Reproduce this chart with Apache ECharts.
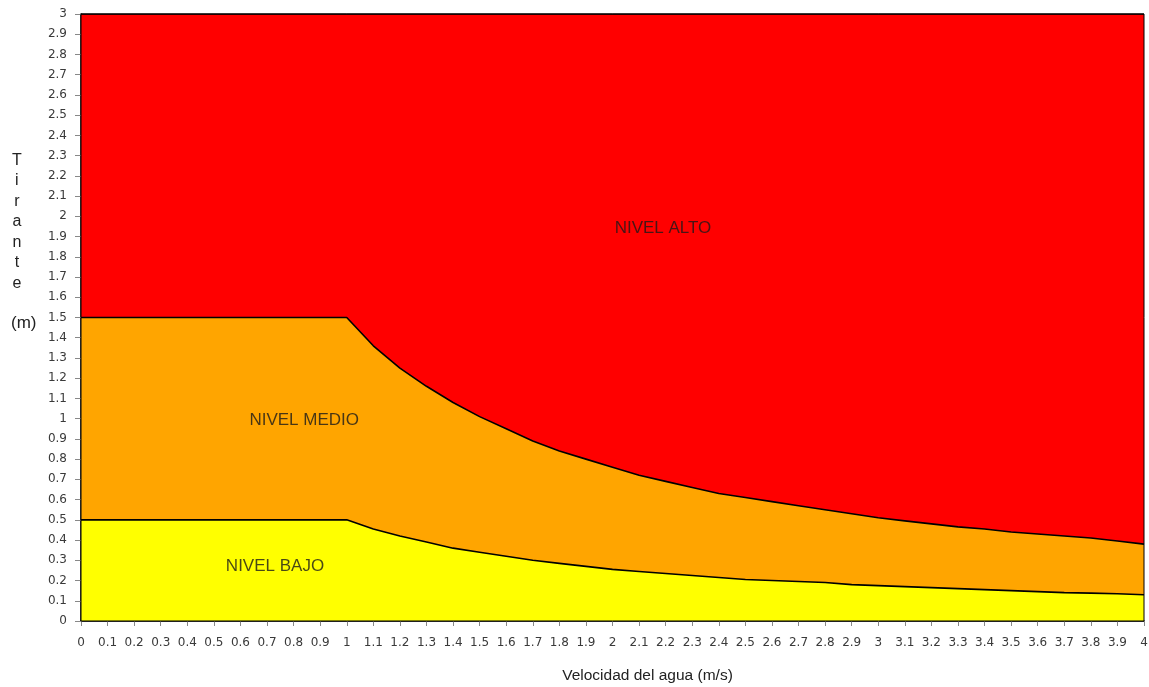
<!DOCTYPE html>
<html>
<head>
<meta charset="utf-8">
<script src="https://cdn.jsdelivr.net/npm/echarts@6/dist/echarts.min.js"></script>
<style>html,body{margin:0;padding:0;background:#fff}#c{width:1149px;height:687px}</style>
</head>
<body>
<div id="c"></div>
<script>
// Velocity (m/s)
var velocity = [0,0.1,0.2,0.3,0.4,0.5,0.6,0.7,0.8,0.9,1.0,1.1,1.2,1.3,1.4,1.5,1.6,1.7,1.8,1.9,2.0,2.1,2.2,2.3,2.4,2.5,2.6,2.7,2.8,2.9,3.0,3.1,3.2,3.3,3.4,3.5,3.6,3.7,3.8,3.9,4.0];
// Upper limit of NIVEL BAJO (m)
var bajoTop = [0.5,0.5,0.5,0.5,0.5,0.5,0.5,0.5,0.5,0.5,0.5,0.455,0.42,0.39,0.36,0.34,0.32,0.3,0.285,0.27,0.255,0.245,0.235,0.225,0.215,0.205,0.2,0.195,0.19,0.18,0.175,0.17,0.165,0.16,0.155,0.15,0.145,0.14,0.138,0.135,0.13];
// Upper limit of NIVEL MEDIO (m)
var medioTop = [1.5,1.5,1.5,1.5,1.5,1.5,1.5,1.5,1.5,1.5,1.5,1.36,1.25,1.16,1.08,1.01,0.95,0.89,0.84,0.8,0.76,0.72,0.69,0.66,0.63,0.61,0.59,0.57,0.55,0.53,0.51,0.495,0.48,0.465,0.455,0.44,0.43,0.42,0.41,0.395,0.38];
// Upper limit of NIVEL ALTO (m)
var altoTop = [3,3,3,3,3,3,3,3,3,3,3,3,3,3,3,3,3,3,3,3,3,3,3,3,3,3,3,3,3,3,3,3,3,3,3,3,3,3,3,3,3];
// Zone labels [x, y, text]
var zoneLabels = [[2.19, 1.94, 'NIVEL ALTO'], [0.84, 0.99, 'NIVEL MEDIO'], [0.73, 0.27, 'NIVEL BAJO']];

function pairs(v){ return velocity.map(function(x,i){ return [x, v[i]]; }); }

var chart = echarts.init(document.getElementById('c'), null, {renderer:'canvas'});
var tickFont = {fontFamily:'DejaVu Sans', fontSize:12, color:'#3a3a3a'};
function areaSeries(data, color, z){
  return {type:'line', data:pairs(data), symbol:'none', smooth:false, z:z,
    lineStyle:{color:'#000', width:1.6}, areaStyle:{color:color, opacity:1, origin:'start'}};
}
chart.setOption({
  animation:false,
  grid:{left:81, right:5, top:14, bottom:66, outerBoundsMode:'none', containLabel:false,
    show:true, borderColor:'#000', borderWidth:1, backgroundColor:'transparent', z:10},
  xAxis:{type:'value', min:0, max:4, interval:0.1,
    name:'Velocidad del agua (m/s)', nameLocation:'middle', nameGap:47,
    nameTextStyle:{fontFamily:'Liberation Sans', fontSize:15.5, color:'#222', padding:[0,0,0,70]},
    axisLine:{show:true, onZero:false, lineStyle:{color:'#000', width:1.5}},
    axisTick:{show:true, length:5, lineStyle:{color:'#888'}},
    axisLabel:Object.assign({margin:16, showMinLabel:true, showMaxLabel:true}, tickFont),
    splitLine:{show:false}},
  yAxis:{type:'value', min:0, max:3, interval:0.1,
    axisLine:{show:true, onZero:false, lineStyle:{color:'#000', width:1.5}},
    axisTick:{show:true, length:6, lineStyle:{color:'#888'}},
    axisLabel:Object.assign({margin:14}, tickFont),
    splitLine:{show:false}},
  graphic:[
    {type:'text', left:12, top:150, style:{text:'T\ni\nr\na\nn\nt\ne', font:'16px "Liberation Sans"', fill:'#222', lineHeight:20.5, textAlign:'center'}},
    {type:'text', left:11, top:315, style:{text:'(m)', font:'17px "Liberation Sans"', fill:'#222'}}
  ],
  series:[
    areaSeries(altoTop, '#ff0000', 2),
    areaSeries(medioTop, '#ffa500', 3),
    areaSeries(bajoTop, '#ffff00', 4),
    {type:'scatter', data:zoneLabels.map(function(d){return {value:[d[0],d[1]], name:d[2]};}),
      symbolSize:0, z:6,
      label:{show:true, position:'inside', formatter:function(p){return p.name;},
        fontFamily:'Liberation Sans', fontSize:17, color:'#1a1a1a'}}
  ]
});
</script>
</body>
</html>
